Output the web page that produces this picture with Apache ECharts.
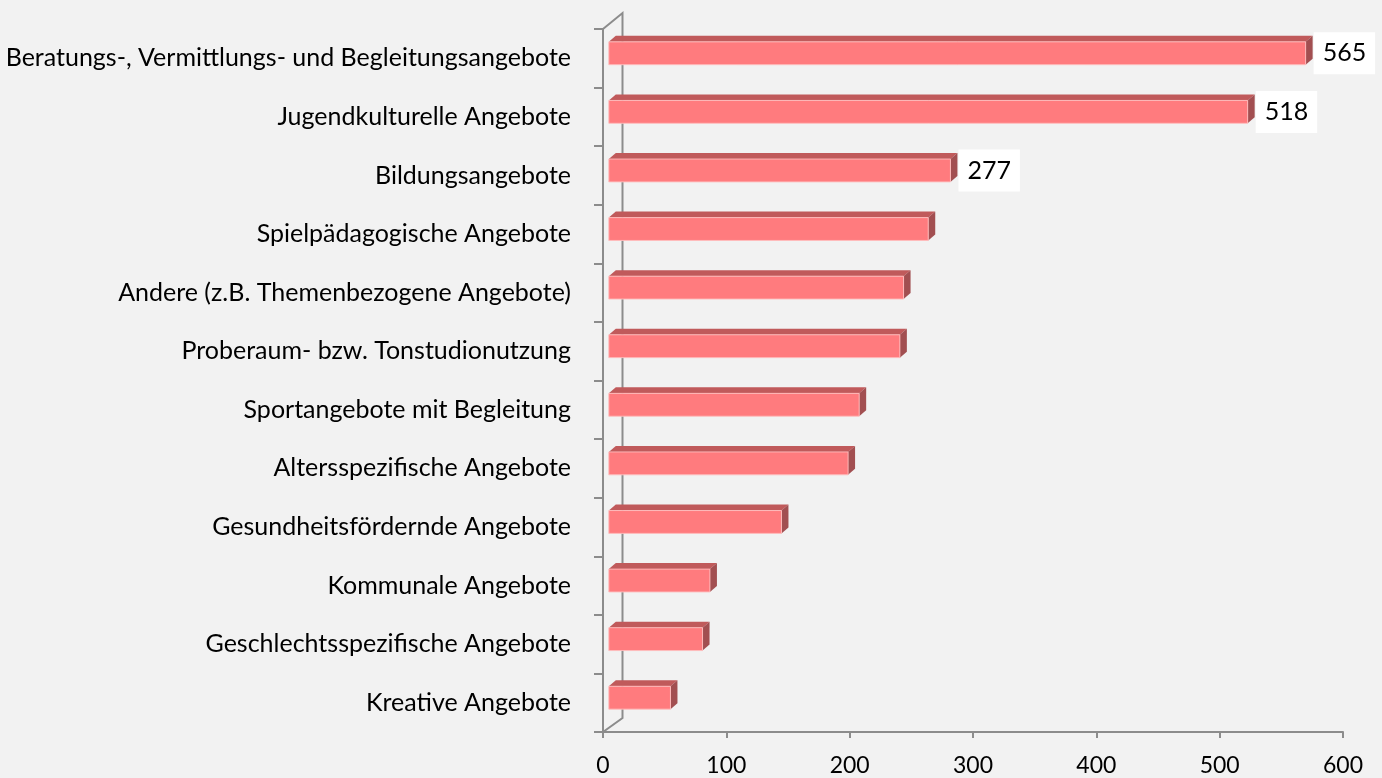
<!DOCTYPE html>
<html>
<head>
<meta charset="utf-8">
<script src="https://cdn.jsdelivr.net/npm/echarts@6/dist/echarts.min.js"></script>
<style>html,body{margin:0;padding:0;background:#F2F2F2;}#c{width:1382px;height:778px;}</style>
</head>
<body>
<div id="c"></div>
<script>
const categories = [
  'Beratungs-, Vermittlungs- und Begleitungsangebote',
  'Jugendkulturelle Angebote',
  'Bildungsangebote',
  'Spielpädagogische Angebote',
  'Andere (z.B. Themenbezogene Angebote)',
  'Proberaum- bzw. Tonstudionutzung',
  'Sportangebote mit Begleitung',
  'Altersspezifische Angebote',
  'Gesundheitsfördernde Angebote',
  'Kommunale Angebote',
  'Geschlechtsspezifische Angebote',
  'Kreative Angebote'
];
const values = [565, 518, 277, 259, 239, 236, 203, 194, 140, 82, 76, 50];
const labelled = [true, true, true, false, false, false, false, false, false, false, false, false];
const xTicks = [0, 100, 200, 300, 400, 500, 600];

const FRONT = '#FF7B7E', TOP = '#C05A5B', SIDE = '#A24F51', EDGE = 'rgba(255,190,190,0.9)';
const AXIS = '#8C8C8C';
const chart = echarts.init(document.getElementById('c'), null, {renderer: 'canvas'});

function renderBar(params, api) {
  const idx = api.value(1);
  const v = api.value(0);
  const p0 = api.coord([0, idx]);
  const p1 = api.coord([v, idx]);
  const band = api.size([0, 1])[1];
  const h = band * 0.39;
  const ox = 5.8, oy = -5;     // bar sits at mid depth
  const dx = 7, dy = -6;       // bar depth
  const x0 = p0[0] + ox, x1 = p1[0] + ox;
  const yc = p0[1] + oy;
  const yt = yc - h / 2, yb = yc + h / 2;
  const children = [
    {type: 'polygon', shape: {points: [[x0, yt], [x0 + dx, yt + dy], [x1 + dx, yt + dy], [x1, yt]]},
     style: {fill: TOP}},
    {type: 'polygon', shape: {points: [[x1, yt], [x1 + dx, yt + dy], [x1 + dx, yb + dy], [x1, yb]]},
     style: {fill: SIDE}},
    {type: 'rect', shape: {x: x0, y: yt, width: x1 - x0, height: h},
     style: {fill: FRONT, stroke: EDGE, lineWidth: 1}}
  ];
  if (labelled[idx]) {
    children.push({type: 'text', x: x1 + dx + 1, y: yc,
      style: {text: String(v), fill: '#000', font: '25px Lato', align: 'left', verticalAlign: 'middle',
              backgroundColor: '#FFFFFF', padding: [9, 9, 8, 9]}});
  }
  return {type: 'group', children: children};
}

function renderWalls(params, api) {
  const cs = params.coordSys;
  const x = cs.x, top = cs.y, bot = cs.y + cs.height;
  const dx = 19.5, dyT = -16, dyB = -14;
  const st = {stroke: AXIS, lineWidth: 2, fill: 'none'};
  return {type: 'group', children: [
    {type: 'polyline', shape: {points: [[x, top], [x + dx, top + dyT], [x + dx, bot + dyB], [x, bot]]}, style: st}
  ]};
}

chart.setOption({
  backgroundColor: '#F2F2F2',
  animation: false,
  grid: {left: 603, right: 39, top: 29, bottom: 46, containLabel: false},
  xAxis: {
    type: 'value', min: xTicks[0], max: xTicks[xTicks.length - 1], interval: 100,
    axisLine: {show: true, lineStyle: {color: AXIS, width: 2}},
    axisTick: {show: true, length: 6, lineStyle: {color: AXIS, width: 2}},
    splitLine: {show: false},
    axisLabel: {color: '#000', fontFamily: 'Lato', fontSize: 23, margin: 22}
  },
  yAxis: {
    type: 'category', data: categories, inverse: true,
    axisLine: {show: true, lineStyle: {color: AXIS, width: 2}},
    axisTick: {show: true, length: 9, lineStyle: {color: AXIS, width: 2}},
    axisLabel: {color: '#000', fontFamily: 'Lato', fontSize: 25, margin: 32}
  },
  series: [
    {type: 'custom', renderItem: renderWalls, data: [[0, 0]], z: 1, silent: true},
    {type: 'custom', renderItem: renderBar, encode: {x: 0, y: 1},
     data: values.map((v, i) => [v, i]), z: 2}
  ]
});
</script>
</body>
</html>
